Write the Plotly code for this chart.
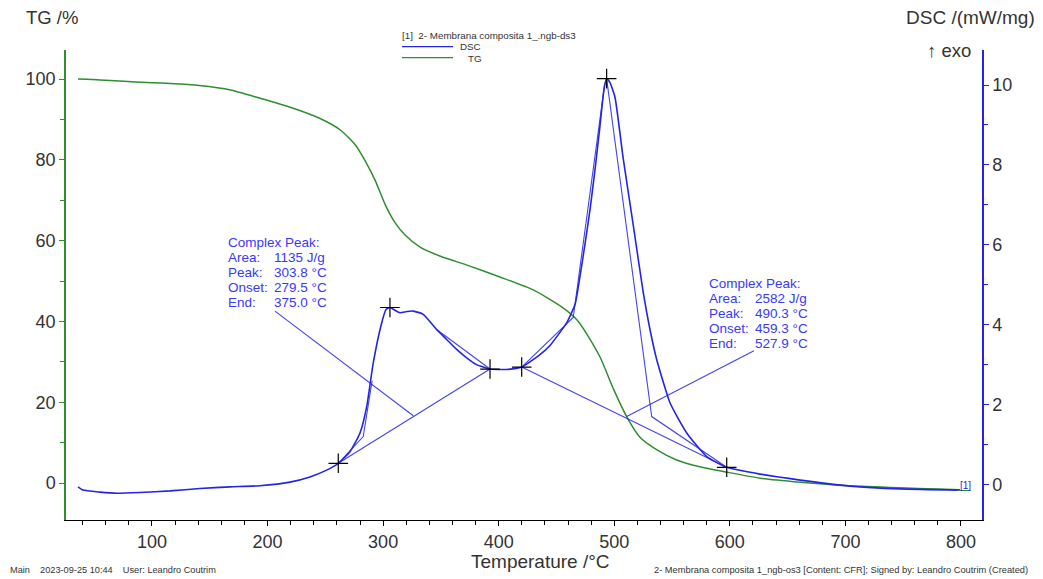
import plotly.graph_objects as go

# ---------------- data ----------------
tg_temp = [36, 55, 72, 100, 116, 141, 168, 193, 219, 245, 263, 276, 284, 293, 302, 310, 319,
           332, 349, 375, 401, 430, 456, 468, 476, 488, 499, 511, 522, 537, 554, 574, 597,
           626, 661, 704, 747, 780, 799]
tg_values = [100.0, 99.8, 99.5, 99.1, 98.9, 98.4, 97.3, 95.3, 93.1, 90.3, 87.4, 83.7, 80.0,
             75.0, 68.8, 64.6, 61.4, 58.4, 56.2, 53.7, 51.0, 47.8, 43.3, 40.3, 37.0, 31.0,
             23.5, 16.3, 11.4, 8.2, 5.7, 4.0, 2.7, 1.2, 0.2, -0.7, -1.2, -1.5, -1.7]

dsc_temp = [36.0, 40.3, 55.0, 69.7, 89.6, 115.6, 141.5, 167.5, 193.4, 219.4, 236.7, 249.7,
            261.2, 271.3, 280.0, 285.8, 291.5, 298.8, 302.5, 305.9, 310.3, 314.6, 320.6,
            326.1, 334.7, 346.3, 355.0, 363.6, 372.3, 380.9, 392.5, 406.9, 419.9, 435.7,
            444.4, 458.9, 466.1, 470.4, 474.7, 479.1, 483.4, 487.7, 491.2, 493.4, 496.3,
            500.6, 507.8, 516.5, 525.1, 530.9, 536.7, 548.3, 562.7, 580.0, 597.3, 626.2,
            660.8, 704.0, 747.3, 799.2]
dsc_values = [-0.06, -0.14, -0.19, -0.22, -0.20, -0.16, -0.10, -0.06, -0.03, 0.06, 0.19, 0.34,
              0.53, 0.82, 1.29, 1.95, 3.05, 4.05, 4.38, 4.43, 4.36, 4.30, 4.33, 4.34, 4.26,
              3.88, 3.63, 3.38, 3.17, 3.00, 2.89, 2.88, 2.94, 3.25, 3.48, 4.05, 4.51, 5.22,
              6.02, 6.90, 7.90, 8.99, 9.91, 10.16, 10.06, 9.70, 8.15, 6.48, 4.80, 3.88, 3.13,
              2.04, 1.29, 0.70, 0.43, 0.26, 0.11, -0.04, -0.11, -0.14]

# evaluation markers (+)
mark_temp = [261.2, 305.9, 392.5, 419.9, 493.4, 597.3]
mark_dsc = [0.53, 4.43, 2.89, 2.94, 10.16, 0.43]

# construction lines of the peak evaluation
base1_temp = [261.2, 392.5]
base1_dsc = [0.53, 2.89]
onset1_temp = [261.2, 282.8, 290.5]
onset1_dsc = [0.53, 1.20, 2.60]
tail1_temp = [346.3, 392.5]
tail1_dsc = [3.88, 2.89]
ptr1_temp = [206.4, 326.1]
ptr1_dsc = [4.34, 1.72]

base2_temp = [419.9, 597.3]
base2_dsc = [2.94, 0.43]
onset2_temp = [419.9, 464.5, 491.8]
onset2_dsc = [2.94, 4.18, 10.04]
end2_temp = [493.4, 532.4, 597.3]
end2_dsc = [10.16, 1.70, 0.43]
ptr2_temp = [620.9, 510.7]
ptr2_dsc = [3.35, 1.70]

peak1_labels = ["Complex Peak:", "Area:", "Peak:", "Onset:", "End:"]
peak1_values = ["", "1135 J/g", "303.8 °C", "279.5 °C", "375.0 °C"]
peak2_labels = ["Complex Peak:", "Area:", "Peak:", "Onset:", "End:"]
peak2_values = ["", "2582 J/g", "490.3 °C", "459.3 °C", "527.9 °C"]

x_ticks = [100, 200, 300, 400, 500, 600, 700, 800]
tg_ticks = [0, 20, 40, 60, 80, 100]
dsc_ticks = [0, 2, 4, 6, 8, 10]

# ---------------- style ----------------
OFF = 8                      # default page margin of the html body
W, H = 1043 - OFF, 579 - OFF
L, R, T, B = 66, 982, 50, 520   # plot area in page pixels
GREEN = "#2f8f2f"
BLUE = "#2424e8"
TXTBLUE = "#3838ff"
GREY = "#333333"
FONT = "Liberation Sans, Arial, sans-serif"


def px(x):
    return (x - L) / (R - L)


def py(y):
    return (B - y) / (B - T)


fig = go.Figure()

fig.add_trace(go.Scatter(x=tg_temp, y=tg_values, mode="lines", yaxis="y",
                         line=dict(color=GREEN, width=1.5, shape="spline", smoothing=0.6),
                         showlegend=False, hoverinfo="skip"))

thin = dict(color=BLUE, width=1.1)
for xs, ys in [(base1_temp, base1_dsc), (onset1_temp, onset1_dsc), (tail1_temp, tail1_dsc),
               (ptr1_temp, ptr1_dsc), (base2_temp, base2_dsc), (onset2_temp, onset2_dsc),
               (end2_temp, end2_dsc), (ptr2_temp, ptr2_dsc)]:
    fig.add_trace(go.Scatter(x=xs, y=ys, mode="lines", yaxis="y2", line=thin,
                             opacity=0.85, showlegend=False, hoverinfo="skip"))

fig.add_trace(go.Scatter(x=dsc_temp, y=dsc_values, mode="lines", yaxis="y2",
                         line=dict(color=BLUE, width=1.6, shape="spline", smoothing=0.5),
                         showlegend=False, hoverinfo="skip"))

fig.add_trace(go.Scatter(x=mark_temp, y=mark_dsc, mode="markers", yaxis="y2",
                         marker=dict(symbol="cross-thin", size=14,
                                     line=dict(color="black", width=1.2)),
                         showlegend=False, hoverinfo="skip"))

ann = []


def text(x, y, s, size=12, color=GREY, xanchor="left", yanchor="middle"):
    ann.append(dict(x=px(x), y=py(y), xref="paper", yref="paper", text=s, showarrow=False,
                    xanchor=xanchor, yanchor=yanchor,
                    font=dict(family=FONT, size=size, color=color)))


# peak evaluation text blocks
for i, (lab, val) in enumerate(zip(peak1_labels, peak1_values)):
    yy = 242 + i * 15.2
    text(226, yy, lab, 13.5, TXTBLUE)
    if val:
        text(272, yy, val, 13.5, TXTBLUE)
for i, (lab, val) in enumerate(zip(peak2_labels, peak2_values)):
    yy = 283 + i * 15.2
    text(707, yy, lab, 13.5, TXTBLUE)
    if val:
        text(753, yy, val, 13.5, TXTBLUE)

# axis titles
text(24, 18, "TG /%", 18.5, GREY)
text(1037, 18, "DSC /(mW/mg)", 19, GREY, xanchor="right")
text(925, 50, "↑ exo", 18.5, GREY)
text(540, 561, "Temperature /°C", 19, GREY, xanchor="center")

# legend block
text(400, 35, "[1]  2- Membrana composita 1_.ngb-ds3", 9.8, GREY)
text(458, 46.5, "DSC", 9.8, GREY)
text(466, 58, "TG", 9.8, GREY)
text(958, 485, "[1]", 10, BLUE)

# footer
text(8, 570, "Main    2023-09-25 10:44    User: Leandro Coutrim", 9.2, GREY)
text(1030, 570, "2- Membrana composita 1_ngb-os3 [Content: CFR]; Signed by: Leandro Coutrim (Created)",
     9.3, GREY, xanchor="right")

shapes = [
    dict(type="line", xref="paper", yref="paper", x0=px(402), x1=px(453), y0=py(46.7), y1=py(46.7),
         line=dict(color=BLUE, width=1.2)),
    dict(type="line", xref="paper", yref="paper", x0=px(402), x1=px(453), y0=py(57.7), y1=py(57.7),
         line=dict(color=GREEN, width=1.2)),
    dict(type="line", xref="paper", yref="paper", x0=px(957), x1=px(970), y0=py(490.5), y1=py(490.5),
         line=dict(color=GREEN, width=1)),
]

tick_font = dict(family=FONT, size=18, color=GREY)

fig.update_layout(
    width=W, height=H,
    margin=dict(l=L - OFF, r=W - (R - OFF), t=T - OFF, b=H - (B - OFF), pad=0),
    paper_bgcolor="white", plot_bgcolor="white",
    showlegend=False,
    annotations=ann,
    shapes=shapes,
    xaxis=dict(range=[25.6, 818.2], tickvals=x_ticks, showgrid=False, zeroline=False,
               showline=True, linecolor="black", linewidth=1.2, ticks="outside",
               ticklen=5, tickcolor="black", tickfont=tick_font,
               minor=dict(tick0=0, dtick=20, ticks="outside", ticklen=4, tickcolor="black")),
    yaxis=dict(range=[-9.16, 107.2], tickvals=tg_ticks, showgrid=False, zeroline=False,
               showline=True, linecolor=GREEN, linewidth=1.5, ticks="outside", ticklen=5,
               tickcolor=GREEN, tickfont=tick_font,
               minor=dict(tick0=0, dtick=10, ticks="outside", ticklen=4, tickcolor=GREEN)),
    yaxis2=dict(range=[-0.889, 10.876], tickvals=dsc_ticks, overlaying="y", side="right",
                showgrid=False, zeroline=False, showline=True, linecolor=BLUE, linewidth=1.5,
                ticks="outside", ticklen=5, tickcolor=BLUE, tickfont=tick_font,
                minor=dict(tick0=0, dtick=1, ticks="outside", ticklen=4, tickcolor=BLUE)),
)

fig.write_html("out.html")
